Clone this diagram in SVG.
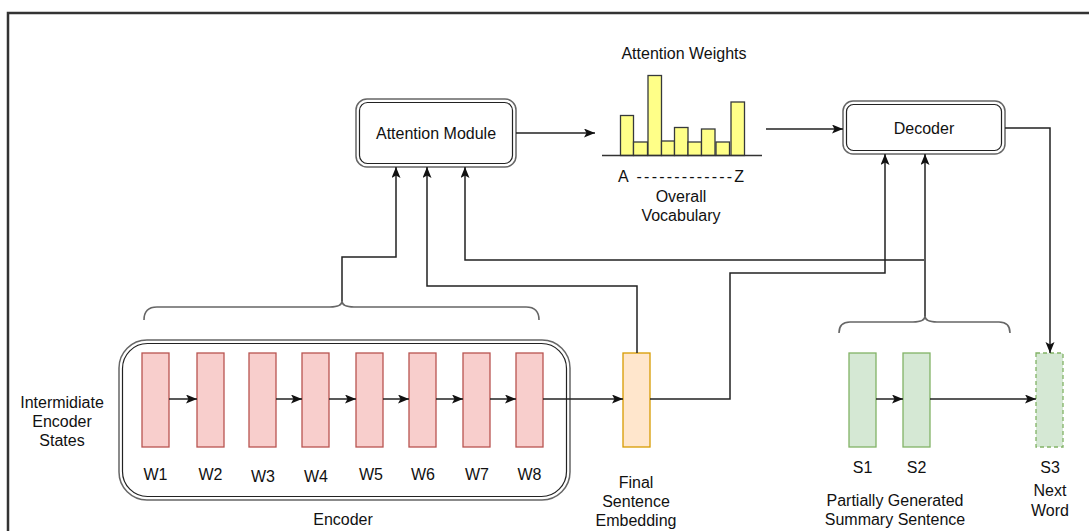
<svg xmlns="http://www.w3.org/2000/svg" width="1089" height="531" viewBox="0 0 1089 531">
<style>
text{font-family:"Liberation Sans",Arial,sans-serif;font-size:16px;fill:#111;text-anchor:middle}
.c{fill:none;stroke:#222;stroke-width:1.5}
.w{fill:#f8cecc;stroke:#b85450;stroke-width:1.3}
.s{fill:#d5e8d4;stroke:#82b366;stroke-width:1.3}
.bar{fill:#ffff88;stroke:#36393d;stroke-width:1.3}
.br{fill:none;stroke:#666;stroke-width:1.6}
.o{fill:#fff;stroke:#666;stroke-width:1.5}
.i{fill:none;stroke:#222;stroke-width:1.2}
</style>
<defs>
<marker id="ah" markerUnits="userSpaceOnUse" markerWidth="12" markerHeight="10" refX="11" refY="4.5" orient="auto">
<path d="M0,0 L11,4.5 L0,9 L2.5,4.5 Z" fill="#111"/>
</marker>
</defs>
<rect x="0" y="0" width="1089" height="531" fill="#fff"/>
<rect x="8" y="13" width="1200" height="700" fill="none" stroke="#333" stroke-width="2.5"/>

<g id="attention-module">
<rect class="o" x="356" y="99" width="160" height="68" rx="11"/>
<rect class="i" x="359.5" y="102.5" width="153" height="61" rx="8"/>
<text x="436" y="139">Attention Module</text>
</g>

<g id="attention-weights">
<text x="684" y="59">Attention Weights</text>
<rect class="bar" x="620.5" y="115.5" width="13" height="40"/>
<rect class="bar" x="633.5" y="142" width="14" height="13.5"/>
<rect class="bar" x="648" y="75.5" width="13.5" height="80"/>
<rect class="bar" x="661.5" y="141" width="13" height="14.5"/>
<rect class="bar" x="674.5" y="127.5" width="13.5" height="28"/>
<rect class="bar" x="688" y="142" width="13.5" height="13.5"/>
<rect class="bar" x="701.5" y="129" width="13.5" height="26.5"/>
<rect class="bar" x="716" y="142" width="13.5" height="13.5"/>
<rect class="bar" x="731" y="102" width="13.5" height="53.5"/>
<line x1="602" y1="155.5" x2="762" y2="155.5" stroke="#333" stroke-width="1.5"/>
<text x="618" y="182" text-anchor="start" textLength="126" lengthAdjust="spacing" style="text-anchor:start">A -------------Z</text>
<text x="681" y="202">Overall</text>
<text x="681" y="221">Vocabulary</text>
</g>

<g id="decoder">
<rect class="o" x="843" y="101" width="162" height="53" rx="10"/>
<rect class="i" x="846.5" y="104.5" width="155" height="46" rx="7"/>
<text x="924" y="134">Decoder</text>
</g>

<g id="encoder">
<rect class="o" x="119" y="340" width="451" height="160" rx="28" fill="none"/>
<rect class="i" x="122.5" y="343.5" width="444" height="153" rx="25"/>
<text x="343" y="525">Encoder</text>
</g>

<g id="intermediate-label">
<text x="62" y="408">Intermidiate</text>
<text x="62" y="427">Encoder</text>
<text x="62" y="446">States</text>
</g>

<g id="w1"><rect class="w" x="142" y="353" width="27" height="94"/><text x="155.5" y="480">W1</text></g>
<g id="w2"><rect class="w" x="197" y="353" width="27" height="94"/><text x="210.5" y="480">W2</text></g>
<g id="w3"><rect class="w" x="249" y="353" width="27" height="94"/><text x="263" y="482">W3</text></g>
<g id="w4"><rect class="w" x="302" y="353" width="27" height="94"/><text x="316" y="482">W4</text></g>
<g id="w5"><rect class="w" x="356" y="353" width="27" height="94"/><text x="371" y="480">W5</text></g>
<g id="w6"><rect class="w" x="409" y="353" width="27" height="94"/><text x="423" y="480">W6</text></g>
<g id="w7"><rect class="w" x="463" y="353" width="27" height="94"/><text x="477" y="480">W7</text></g>
<g id="w8"><rect class="w" x="516" y="353" width="27" height="94"/><text x="529.5" y="480">W8</text></g>

<g id="final-sentence-embedding">
<rect x="623" y="353" width="27" height="94" fill="#ffe6cc" stroke="#d79b00" stroke-width="1.3"/>
<text x="636" y="488">Final</text>
<text x="636" y="507">Sentence</text>
<text x="636" y="526">Embedding</text>
</g>

<g id="s1"><rect class="s" x="849" y="353" width="27" height="94"/><text x="862.5" y="473">S1</text></g>
<g id="s2"><rect class="s" x="903" y="353" width="27" height="94"/><text x="916.5" y="473">S2</text></g>
<g id="s3"><rect class="s" x="1036" y="353" width="27" height="94" stroke-dasharray="4 3"/><text x="1050" y="473">S3</text><text x="1050" y="496">Next</text><text x="1050" y="516">Word</text></g>

<g id="summary-label">
<text x="895" y="506">Partially Generated</text>
<text x="895" y="525">Summary Sentence</text>
</g>

<g id="braces">
<path class="br" d="M144,320 Q144,307 157,307 H330 Q342,307 342,301 Q342,307 354,307 H526 Q539,307 539,320"/>
<path class="br" d="M839,333 Q839,322 850,322 H913 Q925,322 925,316 Q925,322 937,322 H999 Q1010,322 1010,333"/>
</g>

<g id="connectors">
<path class="c" d="M516,133 H595" marker-end="url(#ah)"/>
<path class="c" d="M766,129 H843" marker-end="url(#ah)"/>
<path class="c" d="M1005,128 H1050 V353" marker-end="url(#ah)"/>
<path class="c" d="M342,301 V257 H396 V167" marker-end="url(#ah)"/>
<path class="c" d="M637,353 V286 H427 V167" marker-end="url(#ah)"/>
<path class="c" d="M924,260 H465 V167" marker-end="url(#ah)"/>
<path class="c" d="M925,316 V154" marker-end="url(#ah)"/>
<path class="c" d="M650,399 H730 V273 H885 V154" marker-end="url(#ah)"/>
<path class="c" d="M169,399 H197" marker-end="url(#ah)"/>
<path class="c" d="M276,399 H302" marker-end="url(#ah)"/>
<path class="c" d="M329,399 H356" marker-end="url(#ah)"/>
<path class="c" d="M383,399 H409" marker-end="url(#ah)"/>
<path class="c" d="M436,399 H463" marker-end="url(#ah)"/>
<path class="c" d="M490,399 H516" marker-end="url(#ah)"/>
<path class="c" d="M543,399 H623" marker-end="url(#ah)"/>
<path class="c" d="M876,399 H903" marker-end="url(#ah)"/>
<path class="c" d="M930,399 H1036" marker-end="url(#ah)"/>
</g>
</svg>
